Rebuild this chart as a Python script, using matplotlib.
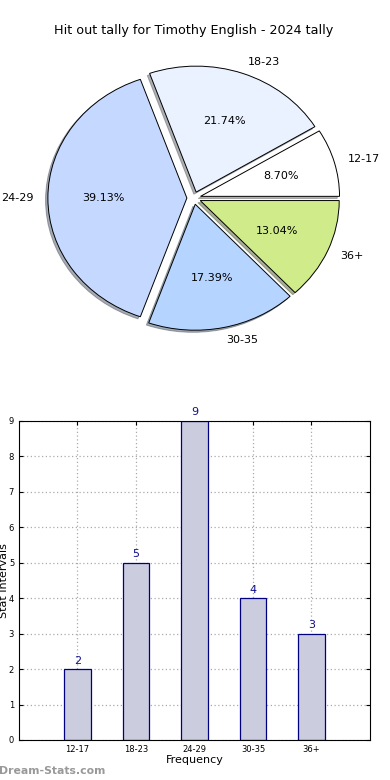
import matplotlib
matplotlib.use('Agg')
from matplotlib import pyplot as plt

# data
labels = ['12-17', '18-23', '24-29', '30-35', '36+']
counts = [2, 5, 9, 4, 3]
pie_colors = ['#ffffff', '#eaf2ff', '#c5d8ff', '#b5d4ff', '#cfeb8a']
title = 'Hit out tally for Timothy English - 2024 tally'

fig = plt.figure(figsize=(3.9, 7.8), dpi=100)

# pie (old style, not forced circular)
ax1 = fig.add_axes([0.0515, 0.5442, 0.891, 0.4038])
wedges, texts, autotexts = ax1.pie(counts, labels=labels, colors=pie_colors,
                                   explode=[0.05] * len(counts),
                                   shadow={'ox': -0.012, 'oy': -0.012, 'shade': 0.6},
                                   autopct='%.2f%%', startangle=0,
                                   wedgeprops={'edgecolor': 'black', 'linewidth': 0.7},
                                   textprops={'fontsize': 8})
ax1.set_aspect('auto')
ax1.set_xlim(-1.25, 1.25)
ax1.set_ylim(-1.25, 1.25)
ax1.set_title(title, fontsize=9.2, pad=5)

# bars
ax2 = fig.add_axes([0.0487, 0.0513, 0.9, 0.409])
x = list(range(len(labels)))
bars = ax2.bar(x, counts, width=0.45, color='#ccccdf', edgecolor='#000080', linewidth=0.9, zorder=2)
for xi, c in zip(x, counts):
    ax2.text(xi, c + 0.1, str(c), ha='center', va='bottom', color='#10108a', fontsize=8)
ax2.set_xlim(-1, 5)
ax2.set_ylim(0, 9)
ax2.set_yticks(range(10))
ax2.set_xticks(x)
ax2.set_xticklabels(labels)
ax2.tick_params(labelsize=6, direction='in', top=True, right=True, length=3)
ax2.grid(True, linestyle=(0, (1, 2)), color='#aaaaaa', linewidth=0.9, zorder=0)
ax2.set_axisbelow(True)
ax2.set_xlabel('Frequency', fontsize=8, labelpad=1)
ax2.set_ylabel('Stat Intervals', fontsize=8, labelpad=0)

fig.text(-0.003, 0.005, 'Dream-Stats.com', color='#999999', fontsize=7.8, fontweight='bold',
         ha='left', va='bottom')

fig.savefig('out.png', dpi=100)
